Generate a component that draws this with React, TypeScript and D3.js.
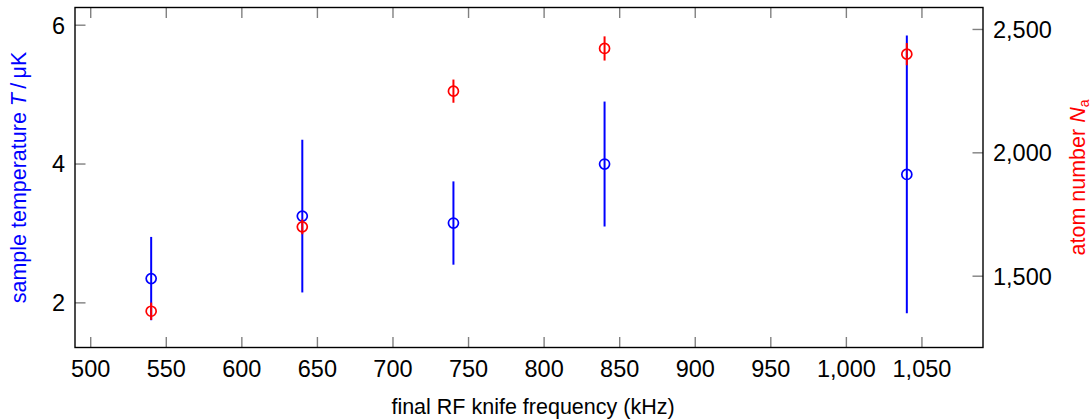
import React from "react";
import * as d3 from "d3";

const freq = [540, 640, 740, 840, 1040];
const temp = [2.35, 3.25, 3.15, 4.0, 3.85];
const tempErr = [0.6, 1.1, 0.6, 0.9, 2.0];
const atoms = [1358, 1700, 2250, 2423, 2400];
const atomsErr = [35, 30, 47, 49, 45];

const xTicks = [500, 550, 600, 650, 700, 750, 800, 850, 900, 950, 1000, 1050];
const yLeftTicks = [2, 4, 6];
const yRightTicks = [1500, 2000, 2500];

const W = 1091;
const H = 420;
const L = 75, R = 983, T = 7.5, B = 347.5;
const FONT = "'Liberation Sans', Arial, sans-serif";
const BLUE = "#0000ff";
const RED = "#ff0000";
const TICK = "#808080";

export default function App() {
  const x = d3.scaleLinear().domain([489.6, 1090.4]).range([L, R]);
  const yl = d3.scaleLinear().domain([1.357, 6.255]).range([B, T]);
  const yr = d3.scaleLinear().domain([1211, 2589]).range([B, T]);
  const fmt = d3.format(",");
  const tl = 10.5;
  const fs = 23.5;

  return (
    <svg width={W} height={H} style={{ position: "absolute", left: 0, top: 0 }} fontFamily={FONT}>
      <rect x={0} y={0} width={W} height={H} fill="#fff" />
      {xTicks.map((t) => (
        <g key={"xt" + t}>
          <line x1={x(t)} x2={x(t)} y1={B} y2={B - tl} stroke={TICK} strokeWidth={1.4} />
          <line x1={x(t)} x2={x(t)} y1={T} y2={T + tl} stroke={TICK} strokeWidth={1.4} />
          <text x={x(t)} y={377} textAnchor="middle" fontSize={fs} fill="#000">{fmt(t)}</text>
        </g>
      ))}
      {yLeftTicks.map((t) => (
        <g key={"yl" + t}>
          <line x1={L} x2={L + tl} y1={yl(t)} y2={yl(t)} stroke={TICK} strokeWidth={1.4} />
          <text x={65} y={yl(t)} dy="0.36em" textAnchor="end" fontSize={fs} fill="#000">{fmt(t)}</text>
        </g>
      ))}
      {yRightTicks.map((t) => (
        <g key={"yr" + t}>
          <line x1={R} x2={R - tl} y1={yr(t)} y2={yr(t)} stroke={TICK} strokeWidth={1.4} />
          <text x={993} y={yr(t)} dy="0.36em" textAnchor="start" fontSize={fs} fill="#000">{fmt(t)}</text>
        </g>
      ))}
      <rect x={L} y={T} width={R - L} height={B - T} fill="none" stroke="#000" strokeWidth={1.4} />

      {freq.map((f, i) => (
        <line key={"be" + i} x1={x(f)} x2={x(f)} y1={yl(temp[i] - tempErr[i])} y2={yl(temp[i] + tempErr[i])} stroke={BLUE} strokeWidth={2} />
      ))}
      {freq.map((f, i) => (
        <circle key={"bc" + i} cx={x(f)} cy={yl(temp[i])} r={5} fill="none" stroke={BLUE} strokeWidth={1.7} />
      ))}
      {freq.map((f, i) => (
        <line key={"re" + i} x1={x(f)} x2={x(f)} y1={yr(atoms[i] - atomsErr[i])} y2={yr(atoms[i] + atomsErr[i])} stroke={RED} strokeWidth={2} />
      ))}
      {freq.map((f, i) => (
        <circle key={"rc" + i} cx={x(f)} cy={yr(atoms[i])} r={5} fill="none" stroke={RED} strokeWidth={1.7} />
      ))}

      <text x={(L + R) / 2 + 4} y={414} textAnchor="middle" fontSize={21.5} fill="#000">final RF knife frequency (kHz)</text>
      <text transform={`translate(26,${(T + B) / 2}) rotate(-90)`} textAnchor="middle" fontSize={21.5} fill={BLUE}>
        sample temperature <tspan fontStyle="italic">T</tspan>{"\u2009/\u2009"}μK
      </text>
      <text transform={`translate(1085,${(T + B) / 2}) rotate(-90)`} textAnchor="middle" fontSize={21.5} fill={RED}>
        atom number <tspan fontStyle="italic">N</tspan><tspan fontSize={14} dy="4">a</tspan>
      </text>
    </svg>
  );
}
